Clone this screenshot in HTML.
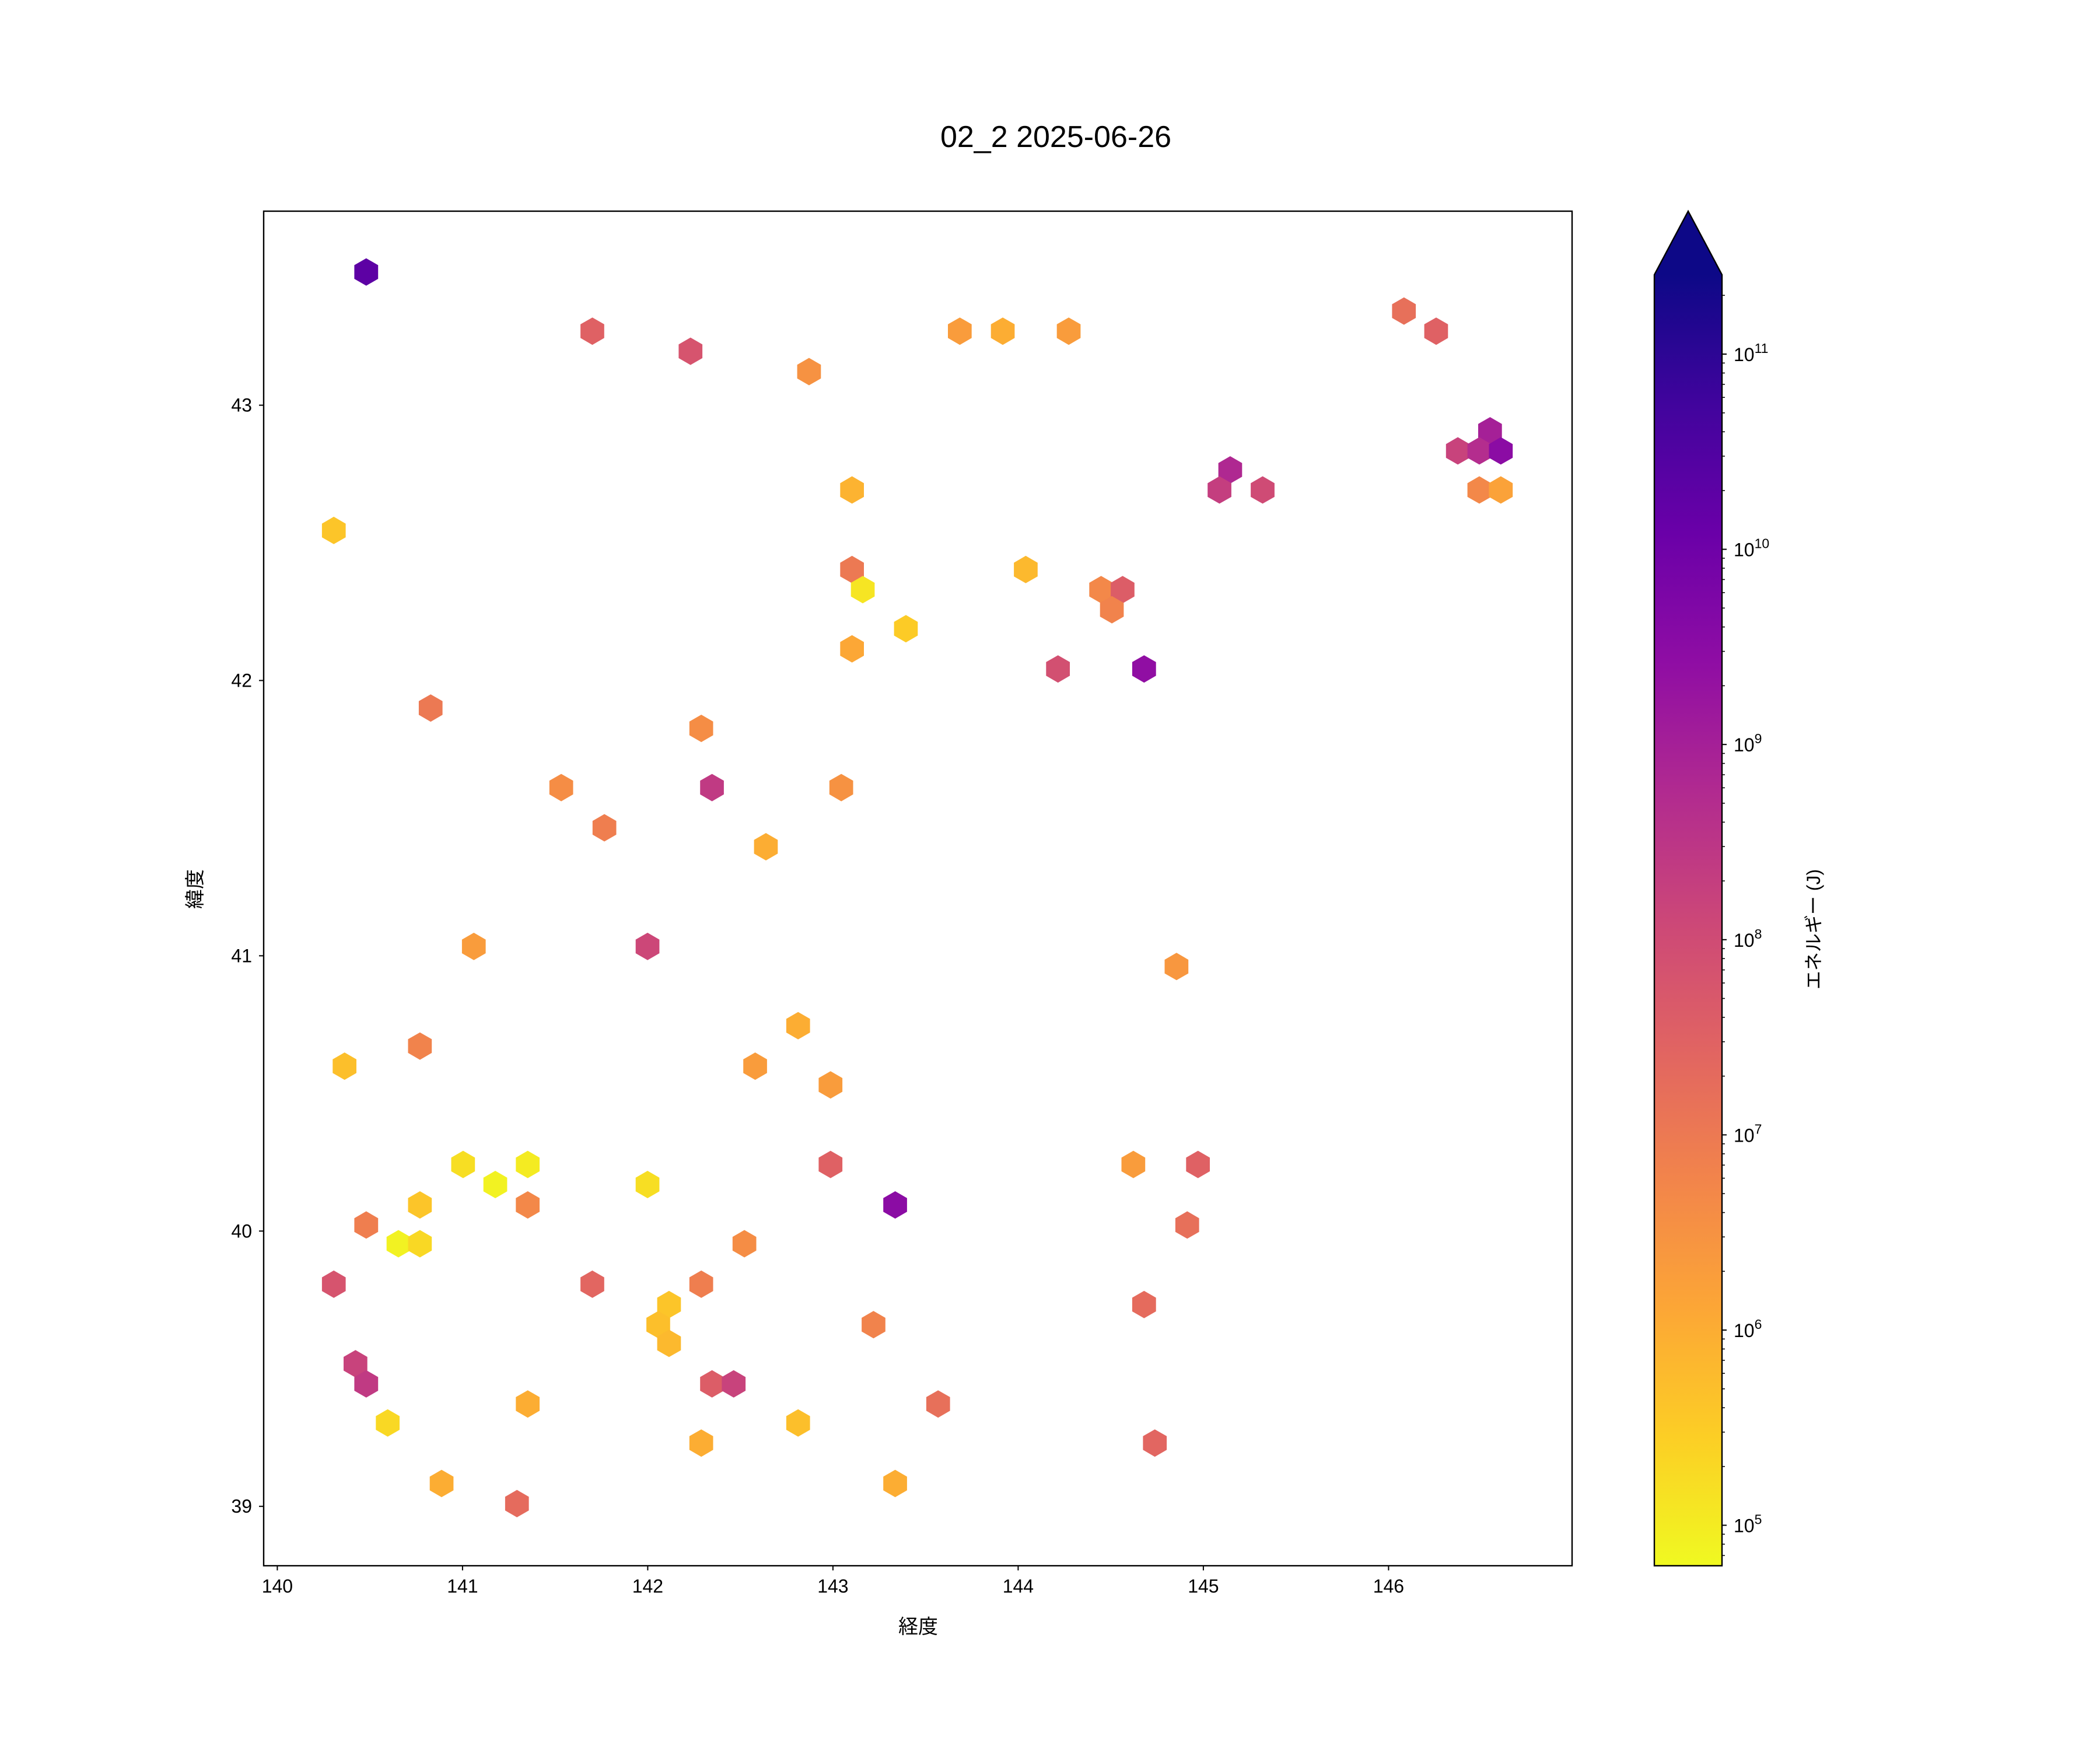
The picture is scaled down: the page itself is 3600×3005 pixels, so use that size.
<!DOCTYPE html>
<html><head><meta charset="utf-8"><style>
html,body{margin:0;padding:0;background:#fff}
svg text{font-family:"Liberation Sans","Noto Sans CJK JP",sans-serif;fill:#000}
</style></head><body>
<svg id="chart" xmlns="http://www.w3.org/2000/svg" width="3600" height="3000" viewBox="0 0 3600 3000">
<defs>
<linearGradient id="plasma" x1="0" y1="1" x2="0" y2="0">
<stop offset="0" stop-color="#f0f921"/><stop offset="0.1" stop-color="#fcce25"/><stop offset="0.2" stop-color="#fca636"/><stop offset="0.3" stop-color="#f2844b"/><stop offset="0.4" stop-color="#e16462"/><stop offset="0.5" stop-color="#cc4778"/><stop offset="0.6" stop-color="#b12a90"/><stop offset="0.7" stop-color="#8f0da4"/><stop offset="0.8" stop-color="#6a00a8"/><stop offset="0.9" stop-color="#41049d"/><stop offset="1" stop-color="#0d0887"/>
</linearGradient>
</defs>
<text x="1810" y="252" font-size="52" text-anchor="middle">02_2 2025-06-26</text>
<g id="hexes"></g>
<rect x="452" y="362" width="2243" height="2322" fill="none" stroke="#000" stroke-width="2.4"/>
<g id="xticks"></g>
<g id="yticks"></g>
<text x="1574" y="2800" font-size="34" text-anchor="middle">経度</text>
<text x="0" y="0" font-size="34" text-anchor="middle" transform="translate(346,1524) rotate(-90)">緯度</text>
<g>
<rect x="2836" y="471" width="116" height="2213" fill="url(#plasma)"/>
<polygon points="2836,471 2894,362 2952,471" fill="#0d0887"/>
<polygon points="2836,2684 2836,471 2894,362 2952,471 2952,2684" fill="none" stroke="#000" stroke-width="2.4"/>
<g id="cticks"></g>
<text x="0" y="0" font-size="32" text-anchor="middle" transform="translate(3120,1593) rotate(-90)">エネルギー (J)</text>
</g>
</svg>
<script>
const lons=[140.480,141.701,142.231,142.871,143.685,143.917,144.273,146.083,146.257,146.548,146.374,146.490,146.606,146.490,146.606,145.145,145.087,145.320,140.305,143.103,143.103,143.161,144.041,144.448,144.564,144.506,143.394,143.103,144.215,144.680,140.828,142.289,141.533,142.347,143.045,141.766,142.638,141.061,141.999,144.855,142.812,140.770,140.363,142.580,142.987,142.987,143.336,144.622,144.971,141.003,141.352,141.177,141.999,140.770,141.352,140.480,144.913,140.654,140.770,142.522,140.305,141.701,142.289,142.115,144.680,142.057,143.219,142.115,140.422,140.480,142.347,142.464,143.568,141.352,140.596,142.812,142.289,144.738,140.887,143.336,141.294];
const lats=[43.484,43.269,43.196,43.122,43.269,43.269,43.269,43.342,43.269,42.907,42.834,42.834,42.834,42.692,42.692,42.765,42.692,42.692,42.545,42.692,42.403,42.330,42.403,42.330,42.330,42.257,42.188,42.115,42.042,42.042,41.900,41.826,41.611,41.611,41.611,41.465,41.396,41.034,41.034,40.961,40.746,40.672,40.599,40.599,40.531,40.242,40.095,40.242,40.242,40.242,40.242,40.169,40.169,40.095,40.095,40.022,40.022,39.954,39.954,39.954,39.807,39.807,39.807,39.733,39.733,39.660,39.660,39.592,39.518,39.445,39.445,39.445,39.372,39.372,39.303,39.303,39.230,39.230,39.083,39.083,39.010];
const logEnergy=[10.3,7.5,7.8,6.5,6.3,6.0,6.3,7.2,7.5,9.0,8.2,8.7,9.5,6.7,6.2,8.8,8.3,8.0,5.6,5.9,7.0,5.1,5.8,6.7,7.6,6.8,5.5,6.1,7.9,9.4,7.0,6.6,6.6,8.4,6.5,6.9,6.0,6.3,8.1,6.4,6.0,6.8,5.7,6.3,6.3,7.5,9.5,6.3,7.5,5.2,5.0,4.9,5.2,5.6,6.7,6.9,7.2,4.9,5.3,6.6,7.8,7.4,6.9,5.6,7.3,5.7,6.8,5.8,8.2,8.4,7.6,8.2,7.2,6.0,5.3,5.7,6.0,7.4,6.0,6.0,7.3];
const xTicks=[140,141,142,143,144,145,146];
const yTicks=[39,40,41,42,43];
const cTicks=[5,6,7,8,9,10,11];
const NS='http://www.w3.org/2000/svg';
const xs=l=>475.4+(l-140)*317.5;
const ys=l=>694.6+(43-l)*471.9;
const cy=v=>607+(11-v)*334.6;
const vmin=4.79,vmax=11.41;
const stops=[[13,8,135],[65,4,157],[106,0,168],[143,13,164],[177,42,144],[204,71,120],[225,100,98],[242,132,75],[252,166,54],[252,206,37],[240,249,33]];
function plasma(v){let t=(vmax-v)/(vmax-vmin);t=Math.max(0,Math.min(1,t));
 const p=t*10,i=Math.min(9,Math.floor(p)),f=p-i,a=stops[i],b=stops[i+1];
 return 'rgb('+a.map((c,k)=>Math.round(c+(b[k]-c)*f)).join(',')+')';}
function mk(tag,attrs,parent){const e=document.createElementNS(NS,tag);for(const k in attrs)e.setAttribute(k,attrs[k]);parent.appendChild(e);return e;}
const hg=document.getElementById('hexes');
const R=23.5,W=R*Math.sqrt(3)/2;
lons.forEach((lo,i)=>{const x=xs(lo),y=ys(lats[i]);
 const pts=[[0,-R],[W,-R/2],[W,R/2],[0,R],[-W,R/2],[-W,-R/2]].map(p=>(x+p[0]).toFixed(1)+','+(y+p[1]).toFixed(1)).join(' ');
 const h=mk('polygon',{points:pts,fill:plasma(logEnergy[i])},hg);
 
 });
const xg=document.getElementById('xticks');
xTicks.forEach(t=>{const x=xs(t);mk('line',{x1:x,x2:x,y1:2684,y2:2692,stroke:'#000','stroke-width':2},xg);
 const tx=mk('text',{x:x,y:2730,'font-size':32,'text-anchor':'middle'},xg);tx.textContent=t;
 
 });
const yg=document.getElementById('yticks');
yTicks.forEach(t=>{const y=ys(t);mk('line',{x1:444,x2:452,y1:y,y2:y,stroke:'#000','stroke-width':2},yg);
 const tx=mk('text',{x:432,y:y+11,'font-size':32,'text-anchor':'end'},yg);tx.textContent=t;
 
 });
const cg=document.getElementById('cticks');
for(let d=4;d<=11;d++){for(let m=2;m<=9;m++){const v=d+Math.log10(m);if(v<vmin||v>vmax)continue;const y=cy(v);
 mk('line',{x1:2952,x2:2957,y1:y,y2:y,stroke:'#000','stroke-width':1.5},cg);}}
cTicks.forEach(t=>{const y=cy(t);mk('line',{x1:2952,x2:2960,y1:y,y2:y,stroke:'#000','stroke-width':2},cg);
 const tx=mk('text',{x:2972,y:y+12,'font-size':32},cg);tx.textContent='10';
 const s=mk('tspan',{dy:-14,'font-size':23},tx);s.textContent=t;
 
 });
</script>
</body></html>
